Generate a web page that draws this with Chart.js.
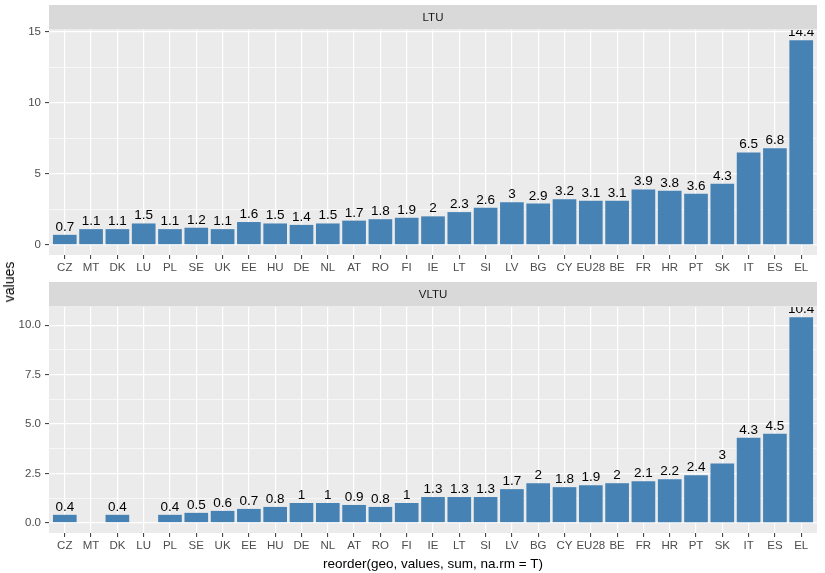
<!DOCTYPE html>
<html>
<head>
<meta charset="utf-8">
<script src="https://cdn.jsdelivr.net/npm/chart.js@4.4.1/dist/chart.umd.min.js"></script>
<style>
  html, body { margin: 0; padding: 0; background: #ffffff; }
  #wrap { position: relative; width: 825px; height: 573px; overflow: hidden; font-family: "Liberation Sans", Arial, sans-serif; }
  canvas { position: absolute; left: 0; }
  #c1 { top: 0; }
  #c2 { top: 280px; }
  .ytitle { position: absolute; left: 9px; top: 282px; transform: translate(-50%, -50%) rotate(-90deg); font-size: 14px; font-weight: normal; color: #000; white-space: nowrap; line-height: 1; }
  .xtitle { position: absolute; left: 433px; top: 564px; transform: translate(-50%, -50%); font-size: 13.5px; font-weight: normal; color: #000; white-space: nowrap; line-height: 1; }
</style>
</head>
<body>
<div id="wrap">
  <canvas id="c1" width="825" height="280"></canvas>
  <canvas id="c2" width="825" height="293"></canvas>
  <div class="ytitle">values</div>
  <div class="xtitle">reorder(geo, values, sum, na.rm = T)</div>
</div>
<script>
const categories = ["CZ","MT","DK","LU","PL","SE","UK","EE","HU","DE","NL","AT","RO","FI","IE","LT","SI","LV","BG","CY","EU28","BE","FR","HR","PT","SK","IT","ES","EL"];
const ltuValues  = [0.7,1.1,1.1,1.5,1.1,1.2,1.1,1.6,1.5,1.4,1.5,1.7,1.8,1.9,2,2.3,2.6,3,2.9,3.2,3.1,3.1,3.9,3.8,3.6,4.3,6.5,6.8,14.4];
const vltuValues = [0.4,null,0.4,null,0.4,0.5,0.6,0.7,0.8,1,1,0.9,0.8,1,1.3,1.3,1.3,1.7,2,1.8,1.9,2,2.1,2.2,2.4,3,4.3,4.5,10.4];
const ltuMajorTicks  = [0, 5, 10, 15];
const ltuTickLabels  = ["0", "5", "10", "15"];
const vltuMajorTicks = [0, 2.5, 5, 7.5, 10];
const vltuTickLabels = ["0.0", "2.5", "5.0", "7.5", "10.0"];
const panelTitles = ["LTU", "VLTU"];

const FONT = '"Liberation Sans", Arial, sans-serif';

const panelPlugin = {
  id: 'panel',
  beforeDraw(chart) {
    const a = chart.chartArea, c = chart.ctx;
    c.save();
    c.fillStyle = '#EBEBEB';
    c.fillRect(a.left, a.top, a.right - a.left, a.bottom - a.top);
    c.fillStyle = '#D9D9D9';
    c.fillRect(a.left, a.top - 25, a.right - a.left, 24.5);
    c.fillStyle = '#1A1A1A';
    c.font = '11.5px ' + FONT;
    c.textAlign = 'center';
    c.textBaseline = 'middle';
    c.fillText(chart.options.plugins.panel.title, (a.left + a.right) / 2, a.top - 12.5);
    c.restore();
  },
  afterDatasetsDraw(chart) {
    const a = chart.chartArea, c = chart.ctx;
    const meta = chart.getDatasetMeta(0);
    const ds = chart.data.datasets[0].data;
    c.save();
    c.beginPath();
    c.rect(a.left, a.top, a.right - a.left, a.bottom - a.top);
    c.clip();
    c.fillStyle = '#000';
    c.font = '13.5px ' + FONT;
    c.textAlign = 'center';
    c.textBaseline = 'alphabetic';
    meta.data.forEach((el, i) => {
      const v = ds[i].y;
      if (v === null || v === undefined) return;
      c.fillText(String(v), el.x, el.y - 4);
    });
    c.restore();
  }
};

function makeChart(id, values, majors, labels, title, padTop, padBottom) {
  const maxV = Math.max(...values.filter(v => v !== null));
  const pad = maxV * 0.05;
  const step = majors[1] - majors[0];
  const allTicks = [];
  for (let i = 0; i < majors.length; i++) {
    allTicks.push(majors[i]);
    allTicks.push(majors[i] + step / 2);
  }
  const isMajor = v => majors.some(m => Math.abs(m - v) < 1e-9);
  const n = categories.length;
  return new Chart(document.getElementById(id), {
    type: 'bar',
    data: {
      datasets: [{
        data: values.map((v, i) => ({ x: i, y: v })),
        backgroundColor: '#4682B4',
        barPercentage: 0.9,
        categoryPercentage: 1.0,
        borderWidth: 0
      }]
    },
    options: {
      responsive: false,
      animation: false,
      devicePixelRatio: 1,
      layout: { padding: { left: 0, right: 8, top: padTop, bottom: padBottom } },
      plugins: {
        legend: { display: false },
        tooltip: { enabled: false },
        panel: { title: title }
      },
      scales: {
        x: {
          type: 'linear',
          offset: false,
          min: -0.6,
          max: n - 1 + 0.6,
          afterBuildTicks: s => { s.ticks = categories.map((_, i) => ({ value: i })); },
          afterFit: s => { s.height = 25; },
          ticks: {
            autoSkip: false,
            maxRotation: 0,
            minRotation: 0,
            padding: 2,
            color: '#4D4D4D',
            font: { family: FONT, size: 11.5 },
            callback: v => categories[v]
          },
          grid: {
            offset: false,
            color: '#FFFFFF',
            lineWidth: 1.2,
            drawTicks: true,
            tickLength: 4,
            tickColor: '#333333',
            tickWidth: 1
          },
          border: { display: false }
        },
        y: {
          type: 'linear',
          min: -pad,
          max: maxV + pad,
          afterBuildTicks: s => { s.ticks = allTicks.filter(t => t <= maxV + pad).map(v => ({ value: v })); },
          afterFit: s => { s.width = 49; },
          ticks: {
            padding: 4,
            color: '#4D4D4D',
            font: { family: FONT, size: 11.5 },
            callback: v => {
              const idx = majors.findIndex(m => Math.abs(m - v) < 1e-9);
              return idx >= 0 ? labels[idx] : '';
            }
          },
          grid: {
            color: '#FFFFFF',
            lineWidth: ctx => (ctx.tick && isMajor(ctx.tick.value)) ? 1.2 : 0.6,
            drawTicks: true,
            tickLength: 4,
            tickColor: ctx => (ctx.tick && isMajor(ctx.tick.value)) ? '#333333' : 'rgba(0,0,0,0)',
            tickWidth: 1
          },
          border: { display: false }
        }
      }
    },
    plugins: [panelPlugin]
  });
}

makeChart('c1', ltuValues, ltuMajorTicks, ltuTickLabels, panelTitles[0], 30, 0);
makeChart('c2', vltuValues, vltuMajorTicks, vltuTickLabels, panelTitles[1], 27, 15);
</script>
</body>
</html>
